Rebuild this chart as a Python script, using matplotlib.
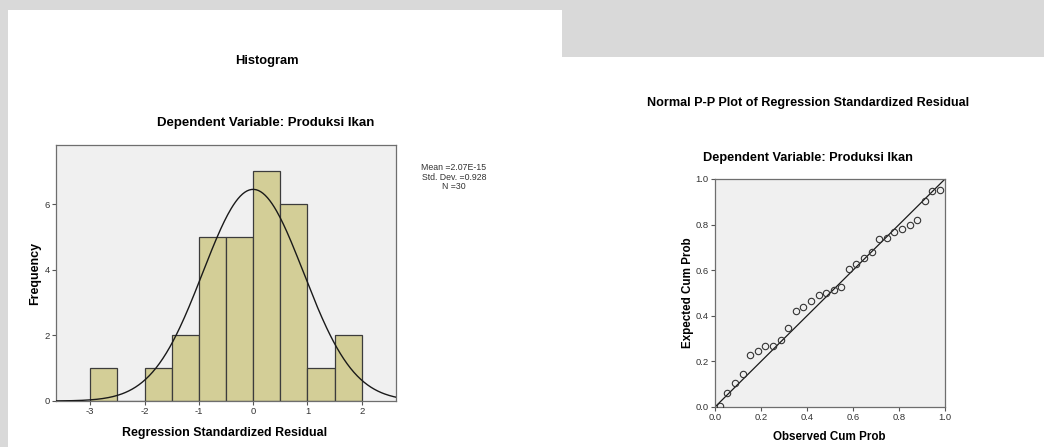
import numpy as np
import matplotlib
matplotlib.use("Agg")
import matplotlib.pyplot as plt
from matplotlib.patches import Rectangle

plt.rcParams['font.family'] = ['Liberation Sans', 'DejaVu Sans']
plt.rcParams['axes.unicode_minus'] = False

# histogram data (bins of width 0.5 from -3 to 2)
bin_left = [-3.0, -2.5, -2.0, -1.5, -1.0, -0.5, 0.0, 0.5, 1.0, 1.5]
freq = [1, 0, 1, 2, 5, 5, 7, 6, 1, 2]
res_mean = 2.07e-15
res_std = 0.928
n_obs = 30

# P-P plot data
obs_cum = [0.021, 0.054, 0.087, 0.120, 0.153, 0.186, 0.219, 0.252, 0.285, 0.318,
           0.351, 0.384, 0.417, 0.450, 0.483, 0.516, 0.549, 0.582, 0.615, 0.648,
           0.681, 0.714, 0.747, 0.780, 0.813, 0.846, 0.879, 0.912, 0.945, 0.978]
exp_cum = [0.006, 0.060, 0.104, 0.143, 0.226, 0.244, 0.266, 0.269, 0.292, 0.346,
           0.422, 0.439, 0.463, 0.491, 0.501, 0.515, 0.526, 0.606, 0.629, 0.655,
           0.680, 0.737, 0.743, 0.766, 0.780, 0.797, 0.820, 0.902, 0.946, 0.952]

W, H = 1044, 447
fig = plt.figure(figsize=(W / 100, H / 100), dpi=100)
fig.patch.set_facecolor('#d9d9d9')

# white screenshot panels
fig.patches.append(Rectangle((8 / W, 0), (562 - 8) / W, 1 - 10 / H,
                             transform=fig.transFigure, facecolor='white',
                             edgecolor='none', zorder=-5))
fig.patches.append(Rectangle((562 / W, 0), (W - 562) / W, 1 - 57 / H,
                             transform=fig.transFigure, facecolor='white',
                             edgecolor='none', zorder=-5))


def style_axes(ax):
    ax.set_zorder(2)
    ax.set_facecolor('#f0f0f0')
    for s in ax.spines.values():
        s.set_color('#6e6e6e')
        s.set_linewidth(0.9)
    ax.tick_params(direction='out', length=3, width=0.8, color='#555555',
                   labelsize=6.8, labelcolor='#333333', pad=1.5)


def ftext(xp, yp, s, **kw):
    fig.text(xp / W, 1 - yp / H, s, ha='center', va='center', **kw)


# Histogram
ax1 = fig.add_axes([56 / W, 1 - 401 / H, 340 / W, 256 / H])
style_axes(ax1)
ax1.bar(bin_left, freq, width=0.5, align='edge', color='#d3ce97',
        edgecolor='#3c3c3c', linewidth=0.9, zorder=2)
xs = np.linspace(-3.63, 2.63, 300)
curve = n_obs * 0.5 / (res_std * np.sqrt(2 * np.pi)) * np.exp(-0.5 * ((xs - res_mean) / res_std) ** 2)
ax1.plot(xs, curve, color='#1a1a1a', linewidth=1.0, zorder=3)
ax1.set_xlim(-3.63, 2.63)
ax1.set_ylim(0, 7.8)
ax1.set_xticks([-3, -2, -1, 0, 1, 2])
ax1.set_yticks([0, 2, 4, 6])

ftext(267, 61, 'Histogram', fontsize=9.3, fontweight='bold')
ftext(266, 123, 'Dependent Variable: Produksi Ikan', fontsize=9.5, fontweight='bold')
ftext(454, 177, 'Mean =2.07E-15\nStd. Dev. =0.928\nN =30', fontsize=6.3,
      color='#333333', linespacing=1.1)
ftext(35, 273, 'Frequency', fontsize=9.0, fontweight='bold', rotation=90)
ftext(225, 433, 'Regression Standardized Residual', fontsize=8.9, fontweight='bold')

# Normal P-P plot
ax2 = fig.add_axes([715 / W, 1 - 407 / H, 230 / W, 228 / H])
style_axes(ax2)
ax2.plot([0, 1], [0, 1], color='#1a1a1a', linewidth=0.9, zorder=2)
ax2.plot(obs_cum, exp_cum, linestyle='none', marker='o', markersize=4.6,
         markerfacecolor='none', markeredgecolor='#333333', markeredgewidth=0.8, zorder=3)
ax2.set_xlim(0, 1)
ax2.set_ylim(0, 1)
ticks = [0.0, 0.2, 0.4, 0.6, 0.8, 1.0]
ax2.set_xticks(ticks)
ax2.set_yticks(ticks)
ax2.set_xticklabels(['%.1f' % t for t in ticks])
ax2.set_yticklabels(['%.1f' % t for t in ticks])

ftext(808, 103, 'Normal P-P Plot of Regression Standardized Residual', fontsize=9.1,
      fontweight='bold')
ftext(808, 158, 'Dependent Variable: Produksi Ikan', fontsize=9.15, fontweight='bold')
ftext(688, 293, 'Expected Cum Prob', fontsize=8.4, fontweight='bold', rotation=90)
ftext(829, 437, 'Observed Cum Prob', fontsize=8.4, fontweight='bold')

fig.savefig('out.png', dpi=100, facecolor=fig.get_facecolor())
